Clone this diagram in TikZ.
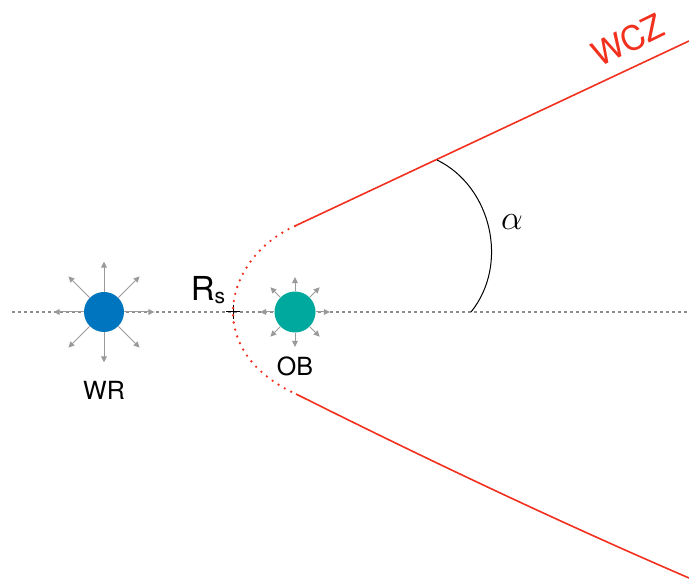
\documentclass[tikz,border=0pt]{standalone}
\usepackage{fontspec}
\setmainfont{TeX Gyre Heros}
\usetikzlibrary{arrows.meta,positioning}
\definecolor{WRBlue}{HTML}{0075BF}
\definecolor{OBTeal}{HTML}{00A99D}
\definecolor{WCZRed}{HTML}{F2301E}
\definecolor{RayGray}{HTML}{9A9A9A}
\definecolor{AxisGray}{HTML}{8C8C8C}
\tikzset{
  star/.style={circle, inner sep=0pt, draw=none},
  ray/.style={-{Triangle[length=3pt,width=2.8pt]}, line width=0.5pt, RayGray},
  axisline/.style={AxisGray, line width=0.55pt, dash pattern=on 1.5pt off 1.5pt},
  shock/.style={WCZRed, line width=0.8pt},
  shockdot/.style={WCZRed, line width=1.3pt, line cap=round,
                   dash pattern=on 0pt off 3.6pt},
  starlabel/.style={font=\fontsize{12.5}{14}\selectfont, text=black},
}

\begin{document}
\begin{tikzpicture}[x=0.5pt, y=0.5pt]
  \useasboundingbox (0,0) rectangle (689,581);

  % line of centres
  \coordinate (axL) at (12,269);
  \coordinate (axR) at (689,269);
  \draw[axisline] (axL) -- (axR);

  % the two stars
  \node[star, fill=WRBlue, minimum size=20pt] (wr) at (104,269) {};
  \node[star, fill=OBTeal, minimum size=20.5pt] (ob) at (295,269) {};

  % winds blowing outwards
  \foreach \a in {0,45,...,315} {
    \draw[ray] (wr.\a) -- ++(\a:30);
    \draw[ray] (ob.\a) -- ++(\a:14);
  }

  \node[starlabel] (wrlab) at (104,191) {WR};
  \node[starlabel] (oblab) at (295,215) {OB};

  % stagnation point
  \coordinate (rs) at (233,269);
  \draw[line width=0.5pt] ([xshift=-3.5pt]rs) -- ([xshift=3.5pt]rs);
  \draw[line width=0.5pt] ([yshift=-3.5pt]rs) -- ([yshift=3.5pt]rs);
  \node[anchor=base, inner sep=0pt] (rslab) at (208,280)
    {\fontsize{16.5}{19}\selectfont R\raisebox{-1.5pt}{\fontsize{10.5}{12}\selectfont s}};

  % wind collision zone
  \coordinate (up0) at (295,355);
  \coordinate (up1) at (689,540);
  \coordinate (lo0) at (296,187);
  \coordinate (lo1) at (689,3);
  \draw[shockdot] (up0) .. controls (255,337) and (233,301) .. (rs)
                        .. controls (233,235) and (256,205) .. (lo0);
  \draw[shock] (up0) -- (up1);
  \draw[shock] (lo0) .. controls (426,122) and (559,59) .. (lo1);
  \node[text=WCZRed, rotate=26, font=\fontsize{16.8}{19}\selectfont]
    (wcz) at (628,541) {WCZ};

  % opening angle
  \coordinate (a0) at (471,269);
  \coordinate (a1) at (437,421);
  \draw[line width=0.5pt] (a0) to[out=51, in=-26] (a1);
  \node (alab) at (512,359) {\fontsize{17}{19}\selectfont$\alpha$};

\end{tikzpicture}
\end{document}
